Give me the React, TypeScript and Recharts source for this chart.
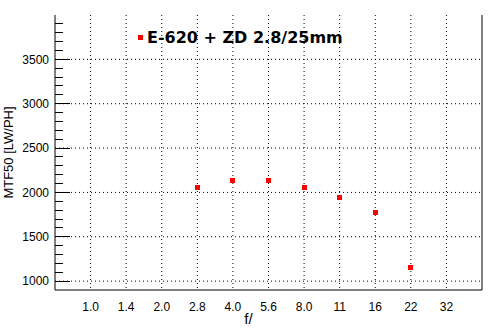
import React from 'react';
import { ScatterChart, Scatter, XAxis, YAxis, CartesianGrid, Label } from 'recharts';

const apertures = ['1.0', '1.4', '2.0', '2.8', '4.0', '5.6', '8.0', '11', '16', '22', '32'];
const measuredApertures = ['2.8', '4.0', '5.6', '8.0', '11', '16', '22'];
const mtf50 = [2050, 2140, 2140, 2050, 1940, 1770, 1155];
const yTicks = [1000, 1100, 1200, 1300, 1400, 1500, 1600, 1700, 1800, 1900, 2000, 2100, 2200, 2300, 2400, 2500, 2600, 2700, 2800, 2900, 3000, 3100, 3200, 3300, 3400, 3500, 3600, 3700, 3800, 3900];
const yMajor = [1000, 1500, 2000, 2500, 3000, 3500];
const xPositions = apertures.map((_, i) => i + 1);
const seriesName = 'E-620 + ZD 2.8/25mm';
const yLabel = 'MTF50 [LW/PH]';
const xLabel = 'f/';

const data = measuredApertures.map((a, i) => ({ pos: apertures.indexOf(a) + 1, mtf: mtf50[i] }));

const FONT = '"Liberation Sans", Arial, sans-serif';

const LeftTick = (props: any) => {
  const { x, y, payload } = props;
  const v = payload.value;
  const major = v % 500 === 0;
  const ax = x + 6;
  return (
    <g>
      <line x1={ax} x2={ax + (major ? 15 : 8)} y1={y} y2={y} stroke="#000" shapeRendering="crispEdges" />
      {major ? (
        <text x={x} y={y} dy="0.36em" textAnchor="end" fontSize={12} fontFamily={FONT} fill="#000">
          {v}
        </text>
      ) : null}
    </g>
  );
};

const RightTick = (props: any) => {
  const { x, y, payload } = props;
  const major = payload.value % 500 === 0;
  return (
    <line x1={x - (major ? 15 : 8)} x2={x} y1={y} y2={y} stroke="#000" shapeRendering="crispEdges" />
  );
};

const Square = (props: any) => {
  const { cx, cy } = props;
  return (
    <rect x={Math.round(cx - 2.5)} y={Math.round(cy - 2.5)} width={5} height={5} fill="#ff0000" shapeRendering="crispEdges" />
  );
};

export default function App() {
  return (
    <div style={{ position: 'absolute', left: 0, top: 0, background: '#fff' }}>
      <ScatterChart width={494} height={331} margin={{ top: 15, right: 0, bottom: 0, left: 0 }}>
        <CartesianGrid
          stroke="#000"
          strokeDasharray="1 3"
          horizontalValues={yMajor}
          verticalValues={xPositions}
        />
        <XAxis
          type="number"
          dataKey="pos"
          domain={[0, 12]}
          ticks={xPositions}
          interval={0}
          tickFormatter={(v: number) => apertures[v - 1] ?? ''}
          tickLine={false}
          tickSize={0}
          tickMargin={12}
          height={41}
          axisLine={{ stroke: '#000' }}
          tick={{ fontSize: 12, fill: '#000', fontFamily: FONT }}
          allowDataOverflow
        >
          <Label value={xLabel} position="insideBottom" offset={7} dx={-20} style={{ fontSize: 15, fill: '#000', fontFamily: FONT }} />
        </XAxis>
        <XAxis xAxisId="top" orientation="top" type="number" domain={[0, 12]} height={0} tick={false} tickLine={false} axisLine={{ stroke: '#000' }} />
        <YAxis
          type="number"
          dataKey="mtf"
          domain={[900, 4000]}
          ticks={yTicks}
          interval={0}
          width={55}
          tickLine={false}
          tickSize={0}
          tickMargin={6}
          axisLine={{ stroke: '#000' }}
          tick={<LeftTick />}
          allowDataOverflow
        >
          <Label
            value={yLabel}
            angle={-90}
            position="insideLeft"
            offset={8}
            style={{ textAnchor: 'middle', fontSize: 13, fill: '#000', fontFamily: FONT }}
          />
        </YAxis>
        <YAxis
          yAxisId="r"
          orientation="right"
          type="number"
          domain={[900, 4000]}
          ticks={yTicks}
          interval={0}
          width={12}
          tickLine={false}
          tickSize={0}
          tickMargin={0}
          axisLine={{ stroke: '#000' }}
          tick={<RightTick />}
        />
        <Scatter data={data} fill="#ff0000" shape={<Square />} isAnimationActive={false} />
        <g>
          <rect x={138} y={35} width={5} height={5} fill="#ff0000" shapeRendering="crispEdges" />
          <text x={147} y={43} fontSize={16} fontWeight="bold" fontFamily='"DejaVu Sans", sans-serif' fill="#000">
            {seriesName}
          </text>
        </g>
      </ScatterChart>
    </div>
  );
}
